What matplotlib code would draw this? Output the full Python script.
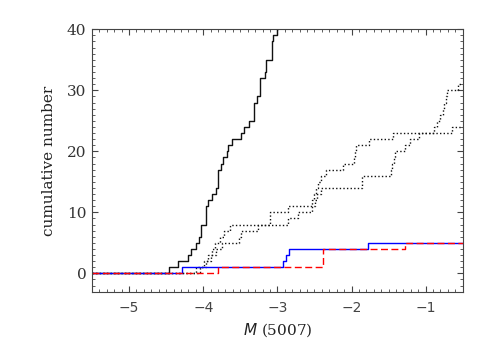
import numpy as np
import matplotlib
matplotlib.use('Agg')
import matplotlib.pyplot as plt
from matplotlib.ticker import MultipleLocator

# M(5007) values at which each cumulative count steps up
solid_black = [-4.46, -4.34, -4.20, -4.16, -4.10, -4.06, -4.03, -4.03, -3.96, -3.96,
               -3.96, -3.93, -3.88, -3.83, -3.80, -3.80, -3.80, -3.76, -3.74, -3.68,
               -3.66, -3.615, -3.49, -3.455, -3.38, -3.32, -3.32, -3.32, -3.28, -3.24,
               -3.24, -3.24, -3.17, -3.157, -3.157, -3.075, -3.075, -3.075, -3.06, -3.01,
               -2.99]
dotted_x = [-4.10, -3.99, -3.935, -3.88, -3.84, -3.77, -3.72, -3.64, -3.10, -3.10,
            -2.85, -2.53, -2.50, -2.48, -2.45, -2.41, -2.34, -2.11, -1.97, -1.957,
            -1.944, -1.77, -1.434, -0.885, -0.849, -0.804, -0.770, -0.750, -0.723, -0.709,
            -0.557]
dotted_y = [-4.043, -3.962, -3.894, -3.827, -3.746, -3.516, -3.489, -3.256, -2.851, -2.720,
            -2.531, -2.497, -2.464, -2.410, -1.856, -1.856, -1.465, -1.451, -1.431, -1.411,
            -1.276, -1.209, -1.096, -0.646]
blue_vals = [-4.29, -2.918, -2.886, -2.837, -1.771]
red_vals = [-3.80, -2.383, -2.383, -2.383, -1.276]

xmin, xmax = -5.5, -0.5


def cumulative(vals):
    vals = np.sort(np.array(vals))
    x = np.concatenate([[xmin], vals, [xmax]])
    y = np.concatenate([[0], np.arange(1, len(vals) + 1), [len(vals)]])
    return x, y


fig = plt.figure(figsize=(4.91, 3.5), dpi=100)
ax = fig.add_axes([0.1874, 0.1666, 0.755, 0.7497])

x, y = cumulative(solid_black)
ax.step(x, y, where='post', color='#111111', lw=1.0)
x, y = cumulative(dotted_x)
ax.step(x, y, where='post', color='#111111', lw=1.0, dashes=(1, 1.6))
x, y = cumulative(dotted_y)
ax.step(x, y, where='post', color='#111111', lw=1.0, dashes=(1, 1.6))
x, y = cumulative(blue_vals)
ax.step(x, y, where='post', color='#0000ff', lw=1.0)
x, y = cumulative(red_vals)
ax.step(x, y, where='post', color='#ff0000', lw=1.0, dashes=(5, 2.5))

ax.set_xlim(xmin, xmax)
ax.set_ylim(-3, 40)
ax.xaxis.set_major_locator(MultipleLocator(1))
ax.xaxis.set_minor_locator(MultipleLocator(0.1))
ax.yaxis.set_major_locator(MultipleLocator(10))
ax.yaxis.set_minor_locator(MultipleLocator(1))
ax.tick_params(which='both', direction='in', top=True, right=True, color='#444444')
ax.tick_params(which='major', length=4, width=0.8)
ax.tick_params(which='minor', length=2, width=0.6)
ax.tick_params(axis='x', labelsize=10, labelcolor='#444444', pad=7)
ax.tick_params(axis='y', labelsize=11, labelcolor='#333333', pad=4)
for lab in ax.get_yticklabels():
    lab.set_family('DejaVu Serif')
for sp in ax.spines.values():
    sp.set_color('#444444')
    sp.set_linewidth(0.8)

ax.set_xlabel(r'$\mathit{M}$ (5007)', family='DejaVu Serif', fontsize=11, color='#222222')
ax.set_ylabel('cumulative number', family='DejaVu Serif', fontsize=11, color='#222222', labelpad=8)

fig.savefig('out.png', dpi=100)
